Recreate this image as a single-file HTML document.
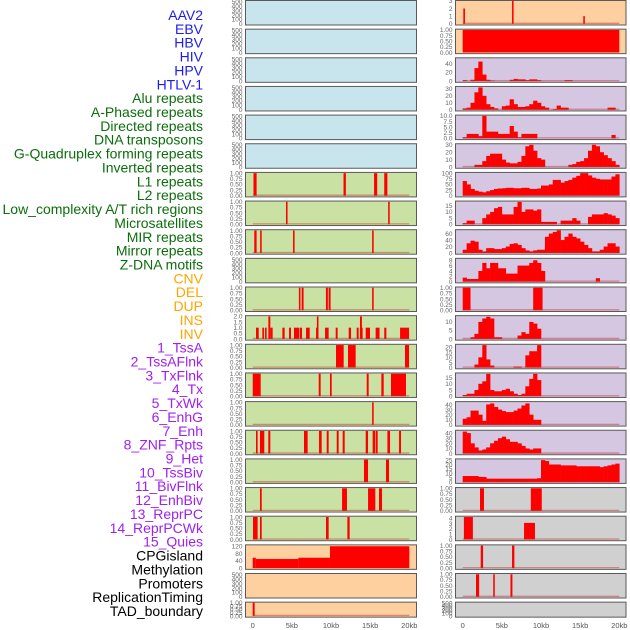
<!DOCTYPE html>
<html><head><meta charset="utf-8"><style>
html,body{margin:0;padding:0;background:#fff;}
svg{display:block;font-family:"Liberation Sans",sans-serif;}
</style></head><body>
<svg id="chart" width="630" height="630" viewBox="0 0 630 630" xmlns="http://www.w3.org/2000/svg"></svg>
<script>
const trackLabels = ["AAV2","EBV","HBV","HIV","HPV","HTLV-1","Alu repeats","A-Phased repeats","Directed repeats","DNA transposons","G-Quadruplex forming repeats","Inverted repeats","L1 repeats","L2 repeats","Low_complexity A/T rich regions","Microsatellites","MIR repeats","Mirror repeats","Z-DNA motifs","CNV","DEL","DUP","INS","INV","1_TssA","2_TssAFlnk","3_TxFlnk","4_Tx","5_TxWk","6_EnhG","7_Enh","8_ZNF_Rpts","9_Het","10_TssBiv","11_BivFlnk","12_EnhBiv","13_ReprPC","14_ReprPCWk","15_Quies","CPGisland","Methylation","Promoters","ReplicationTiming","TAD_boundary"];
const labelGroups = [6,13,5,15,5];
const groupColors = ["#1c1cf0","#0b6e0b","#ffa500","#a020f0","#000000"];
const xTicks = [0,5,10,15,20];
const xTickLabels = ["0","5kb","10kb","15kb","20kb"];
const t500 = [0,100,200,300,400,500];
const t1 = [0,0.25,0.5,0.75,1];

// left column data (segments in kb)
const l6Bars = [[0.1,0.5],[11.6,11.9],[15.5,15.9],[16.8,17.2]];
const l7Bars = [[4.25,4.45],[17.3,17.5]];
const l8Bars = [[0.2,0.5],[0.95,1.15],[5.15,5.35],[15.25,15.45]];
const l10Bars = [[5.9,6.1],[6.25,6.5],[9.35,9.6],[9.7,9.95],[15.25,15.45]];
const l11Bars = [[0.42,0.77,1],[1.23,1.44,1],[1.57,1.78,1],[2.0,2.25,2],[2.25,2.55,1],[3.79,4.08,1],[4.64,4.89,1],[5.27,5.96,1],[6.04,6.3,1],[6.81,7.28,1],[8.09,8.38,1],[8.2,8.4,2],[9.24,9.7,1],[10.6,10.85,1],[12.26,12.56,1],[13.28,13.53,1],[13.7,14.04,1],[13.7,13.95,2],[14.43,14.98,1],[15.7,16.2,1],[16.8,17.07,1],[18.82,19.97,1]];
const l12Bars = [[10.64,11.62],[12.17,13.15],[19.45,19.97]];
const l13Bars = [[0,1.02],[8.43,8.68],[9.87,10.09],[14.56,14.81],[16.43,16.73],[17.66,19.58]];
const l14Bars = [[15.25,15.45]];
const l15Bars = [[0.42,0.63],[0.93,1.48],[1.99,2.25],[6.55,7.02],[8.47,8.81],[9.45,9.7],[10.73,10.98],[11.49,11.75],[14.43,14.73],[15.32,15.62],[15.7,15.96],[17.2,17.54],[18.69,18.94]];
const l16Bars = [[14.21,14.73],[17.02,17.41]];
const l17Bars = [[0.93,1.15],[11.41,12.04],[14.73,15.66],[16.13,16.52]];
const l18Bars = [[0.04,0.63],[0.93,1.15],[9.36,9.7],[12.09,12.38]];
const l19Steps = [[0,0.4,57],[0.4,5.83,50],[5.83,9.87,57],[9.87,20,120]];
const l21Bars = [[0,0.25]];

// right column data
const r0Bars = [[0.08,0.29,2],[6.3,6.5,3],[15.4,15.6,1]];
const r1Bars = [[0,20,1]];
const r2Hist = [2,0,3,30,45,15,3,1,0,0,0,0,3,5,4,4,2,4,4,2,0,0,0,0,0,0,2,2,0,0,0,0,0,0,0,0,0,0,0,0];
const r3Hist = [2,3,10,25,32,20,8,4,2,0,5,6,15,8,4,4,5,8,13,10,5,3,0,1,6,3,3,0,0,0,0,0,0,0,0,0,0,3,3,0];
const r4Hist = [0.5,2,2,2,1,10,3,3,3,2,2,2,5.5,3,0.5,2,2,2,2,0,0,0,0,0,0,0,0,0,0,0,0,0,0,0,0,0,0,0,1.5,0];
const r5Hist = [0,0,0,3,3,8,15,18,18,18,10,6,5,5,7,15,28,30,22,12,10,0,0,0,0,0,0,3,4,7,8,12,22,30,28,20,16,12,8,3];
const r6Hist = [65,50,30,22,18,15,20,25,30,32,33,35,35,33,33,35,35,30,30,32,45,45,50,70,70,58,65,70,80,88,100,100,90,80,75,72,72,72,85,95];
const r7Hist = [1,3,3,0,0,5,8,10,13,14,8,8,8,14,18,10,12,12,11,12,2,2,2,2,0,3,3,3,5,3,0,0,6,8,8,8,9,8,7,5];
const r8Hist = [10,30,38,35,10,5,15,15,12,12,15,20,28,30,25,15,8,5,8,10,10,50,60,65,70,40,50,60,50,45,35,25,15,5,5,10,20,30,30,20];
const r9Hist = [1.5,1,1,1,4,7,5,7,7,5,5,3,3,3,6,6,6,7,8,7,4,0,0,0,0,0,0,0,0,0,0,0,0,0,1.3,0,0,0,0,0];
const r10Bars = [[0,1,1],[9,10.2,1]];
const r11Hist = [0,0,1,3,10,12,13,12,1,1,0,0,0,0,2,4,3,10,9,6,0,0,0,0,0,0,0,0,0,0,0,0,0,0,0,0,0,0,0,0];
const r12Hist = [0,0,0,3,10,22,8,2,0,0,0,0,0,1,1,0,12,16,16,22,0,0,0,0,0,0,0,0,0,0,0,0,0,0,0,0,0,0,0,0];
const r13Hist = [1,2,2,5,10,12,18,5,4,4,5,6,4,2,1,2,8,14,18,13,0,0,0,0,0,0,0,0,0,0,0,0,0,0,0,0,0,0,0,0];
const r14Hist = [12,15,28,28,20,8,40,42,35,30,27,25,25,28,32,38,42,20,10,10,0,0,0,0,0,0,0,0,0,0,0,0,0,0,0,0,0,0,0,0];
const r15Hist = [43,40,20,12,6,8,12,20,25,30,33,28,23,23,20,15,10,8,10,10,0,0,0,0,0,0,0,0,0,0,0,0,0,0,0,0,0,0,0,0];
const r16Hist = [7,7,7,7,6,6,4,4,4,4,4,4,4,4,4,4,4,4,4,4.5,25,24,20,20,20,19,19,19,19,18,18,18,18,18,18,17,18,19,20,21];
const r17Bars = [[2.21,2.72,1],[8.7,10.1,1]];
const r18Bars = [[0.15,1.3,4.2],[7.83,9.23,3.1]];
const r19Bars = [[2.3,2.6,1],[6.3,6.6,1]];
const r20Bars = [[1.7,2.1,1],[3.9,4.1,1],[6.1,6.35,1]];

const BLUE="#c8e4ec",GREEN="#c9e2a4",ORANGE="#fecf9f",PURPLE="#d5c6e2",GRAY="#d0d0d0";
const seg = a => a.map(s => [s[0], s[1], s.length > 2 ? s[2] : 1]);
const panels = [
 // left
 {c:0,r:0,bg:BLUE,ymax:520,ticks:t500},{c:0,r:1,bg:BLUE,ymax:520,ticks:t500},{c:0,r:2,bg:BLUE,ymax:520,ticks:t500},
 {c:0,r:3,bg:BLUE,ymax:520,ticks:t500},{c:0,r:4,bg:BLUE,ymax:520,ticks:t500},{c:0,r:5,bg:BLUE,ymax:520,ticks:t500},
 {c:0,r:6,bg:GREEN,ymax:1.02,ticks:t1,bars:seg(l6Bars),line:1},
 {c:0,r:7,bg:GREEN,ymax:1.02,ticks:t1,bars:seg(l7Bars),line:1},
 {c:0,r:8,bg:GREEN,ymax:1.02,ticks:t1,bars:seg(l8Bars),line:1},
 {c:0,r:9,bg:GREEN,ymax:520,ticks:t500},
 {c:0,r:10,bg:GREEN,ymax:1.02,ticks:t1,bars:seg(l10Bars),line:1},
 {c:0,r:11,bg:GREEN,ymax:2.04,ticks:[0,0.5,1,1.5,2],bars:seg(l11Bars),line:1,fmt:1},
 {c:0,r:12,bg:GREEN,ymax:1.02,ticks:t1,bars:seg(l12Bars),line:1},
 {c:0,r:13,bg:GREEN,ymax:1.02,ticks:t1,bars:seg(l13Bars),line:1},
 {c:0,r:14,bg:GREEN,ymax:1.02,ticks:t1,bars:seg(l14Bars),line:1},
 {c:0,r:15,bg:GREEN,ymax:1.02,ticks:t1,bars:seg(l15Bars),line:1},
 {c:0,r:16,bg:GREEN,ymax:1.02,ticks:t1,bars:seg(l16Bars),line:1},
 {c:0,r:17,bg:GREEN,ymax:1.02,ticks:t1,bars:seg(l17Bars),line:1},
 {c:0,r:18,bg:GREEN,ymax:1.02,ticks:t1,bars:seg(l18Bars),line:1},
 {c:0,r:19,bg:ORANGE,ymax:126,ticks:[0,40,80,120],bars:seg(l19Steps)},
 {c:0,r:20,bg:ORANGE,ymax:520,ticks:t500},
 {c:0,r:21,bg:ORANGE,ymax:1.02,ticks:t1,bars:seg(l21Bars),line:1},
 // right
 {c:1,r:0,bg:ORANGE,ymax:3,ticks:[0,1,2,3],bars:seg(r0Bars),line:1},
 {c:1,r:1,bg:ORANGE,ymax:1.02,ticks:t1,bars:seg(r1Bars)},
 {c:1,r:2,bg:PURPLE,ymax:53,ticks:[0,20,40],hist:r2Hist,line:1},
 {c:1,r:3,bg:PURPLE,ymax:33,ticks:[0,10,20,30],hist:r3Hist,line:1},
 {c:1,r:4,bg:PURPLE,ymax:10.2,ticks:[0,2.5,5,7.5,10],hist:r4Hist,line:1,fmt:1},
 {c:1,r:5,bg:PURPLE,ymax:31,ticks:[0,10,20,30],hist:r5Hist,line:1},
 {c:1,r:6,bg:PURPLE,ymax:102,ticks:[0,25,50,75,100],hist:r6Hist,line:1},
 {c:1,r:7,bg:PURPLE,ymax:18.5,ticks:[0,5,10,15],hist:r7Hist,line:1},
 {c:1,r:8,bg:PURPLE,ymax:71,ticks:[0,20,40,60],hist:r8Hist,line:1},
 {c:1,r:9,bg:PURPLE,ymax:8.6,ticks:[0,2,4,6,8],hist:r9Hist,line:1},
 {c:1,r:10,bg:PURPLE,ymax:1.02,ticks:t1,bars:seg(r10Bars),line:1},
 {c:1,r:11,bg:PURPLE,ymax:13.5,ticks:[0,5,10],hist:r11Hist,line:1},
 {c:1,r:12,bg:PURPLE,ymax:22.5,ticks:[0,5,10,15,20],hist:r12Hist,line:1},
 {c:1,r:13,bg:PURPLE,ymax:18.5,ticks:[0,5,10,15],hist:r13Hist,line:1},
 {c:1,r:14,bg:PURPLE,ymax:45,ticks:[0,10,20,30,40],hist:r14Hist,line:1},
 {c:1,r:15,bg:PURPLE,ymax:45,ticks:[0,10,20,30,40],hist:r15Hist,line:1},
 {c:1,r:16,bg:PURPLE,ymax:26,ticks:[0,5,10,15,20,25],hist:r16Hist,line:1},
 {c:1,r:17,bg:GRAY,ymax:1.02,ticks:t1,bars:seg(r17Bars),line:1},
 {c:1,r:18,bg:GRAY,ymax:4.3,ticks:[0,1,2,3,4],bars:seg(r18Bars),line:1},
 {c:1,r:19,bg:GRAY,ymax:1.02,ticks:t1,bars:seg(r19Bars),line:1},
 {c:1,r:20,bg:GRAY,ymax:1.02,ticks:t1,bars:seg(r20Bars),line:1},
 {c:1,r:21,bg:GRAY,ymax:520,ticks:t500}
];

const NS="http://www.w3.org/2000/svg";
const svg=document.getElementById("chart");
function mk(tag,attrs,parent){const e=document.createElementNS(NS,tag);for(const k in attrs)e.setAttribute(k,attrs[k]);(parent||svg).appendChild(e);return e;}
const colX=[{l:245.5,r:416.5,x0:252.7},{l:455.5,r:626,x0:462.7}];
const PXKB=7.83;
function xScale(c,kb){return colX[c].x0+kb*PXKB;}
function rowTop(r){return 0.5+r*28.65;}
function rowH(r){return r===21?15:24.5;}

// labels
let li=0;
labelGroups.forEach((n,g)=>{for(let k=0;k<n;k++){const t=mk("text",{x:203,y:15+li*13.86+5,"text-anchor":"end","font-size":"14",fill:groupColors[g]});
t.textContent=trackLabels[li];


li++;}});

panels.forEach(p=>{
 const g=mk("g",{});
 
 
 const top=rowTop(p.r),h=rowH(p.r),L=colX[p.c].l,R=colX[p.c].r,bot=top+h-1.2;
 mk("rect",{x:L,y:top,width:R-L,height:h,fill:p.bg},g);
 const ys=v=>bot-v/p.ymax*(h-1.5);
 if(p.hist){
  p.hist.forEach((v,i)=>{if(v<=0)return;const x1=xScale(p.c,i*0.5),x2=xScale(p.c,(i+1)*0.5);
   const b=mk("rect",{x:x1,y:ys(v),width:x2-x1+0.3,height:bot-ys(v),fill:"#ff0000"},g);
   
   });
 }
 if(p.bars){
  p.bars.forEach(s=>{const x1=xScale(p.c,s[0]),x2=xScale(p.c,s[1]);
   const b=mk("rect",{x:x1,y:ys(s[2]),width:Math.max(1.2,x2-x1),height:bot-ys(s[2]),fill:"#ff0000"},g);
   
   });
 }
 if(p.line){mk("line",{x1:xScale(p.c,0),x2:xScale(p.c,20),y1:bot-0.5,y2:bot-0.5,stroke:"rgba(200,40,40,0.45)","stroke-width":1.3},g);}
 mk("rect",{x:L,y:top,width:R-L,height:h,fill:"none",stroke:"#5a5a5a","stroke-width":1},g);
 p.ticks.forEach(v=>{const y=ys(v);
  const lab=p.fmt?(Number.isInteger(v)&&p.ticks.length===5&&p.ymax<3?v.toFixed(1):(p.ymax>5?v.toFixed(1):v.toFixed(1))):(p.ticks===t1?v.toFixed(2):String(v));
  const t=mk("text",{x:L-3,y:y+2.3,"text-anchor":"end","font-size":"6.5",fill:"#666"},g);
  t.textContent=lab;
  
  
 });
});

// x axes
[0,1].forEach(c=>{xTicks.forEach((v,i)=>{const t=mk("text",{x:xScale(c,v),y:628,"text-anchor":"middle","font-size":"7.5",fill:"#555"});
 t.textContent=xTickLabels[i];
 
 });});
</script>
</body></html>
